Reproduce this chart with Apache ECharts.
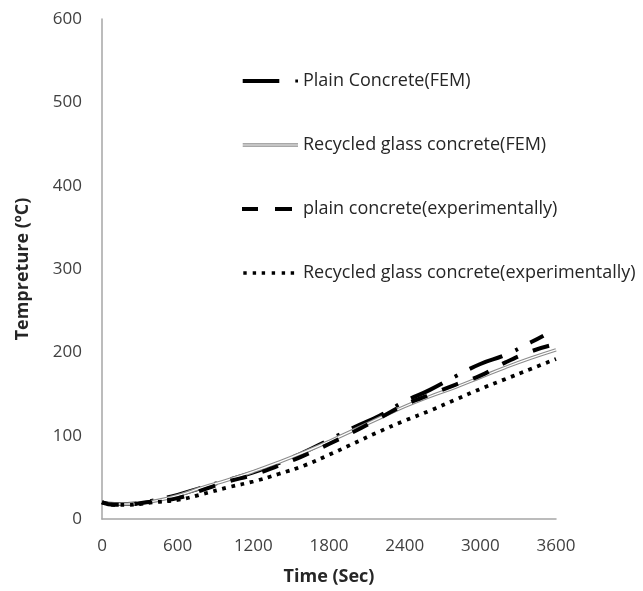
<!DOCTYPE html>
<html>
<head>
<meta charset="utf-8">
<script src="https://cdn.jsdelivr.net/npm/echarts@6/dist/echarts.min.js"></script>
<style>html,body{margin:0;padding:0;background:#fff;}#c{width:643px;height:591px;}</style>
</head>
<body>
<div id="c"></div>
<script>
// ---- data (Time in seconds, Temperature in ºC) ----
const timeTicks = [0, 600, 1200, 1800, 2400, 3000, 3600];
const tempTicks = [0, 100, 200, 300, 400, 500, 600];

const timesFull = [0, 100, 200, 300, 400, 600, 800, 1000, 1200, 1400, 1600, 1800, 2000, 2200, 2400, 2600, 2800, 3000, 3200, 3400, 3600];
const timesPlainFEM = [0, 100, 200, 300, 400, 600, 800, 1000, 1200, 1400, 1600, 1800, 2000, 2200, 2400, 2600, 2800, 3000, 3200, 3400, 3500];
const timesPlainExp = [0, 100, 200, 300, 400, 600, 800, 1000, 1200, 1400, 1600, 1800, 2000, 2200, 2400, 2600, 2800, 3000, 3200, 3400, 3550];

const plainFEM   = [20, 18, 18, 19, 22, 29, 38, 47, 56, 67, 80, 95, 110, 124, 141, 155, 171, 186, 197, 212, 220];
const recycledFEM = [20, 18, 18, 19, 21, 28, 38, 47, 57, 68, 80, 93, 107, 121, 135, 147, 158, 170, 182, 193, 203];
const plainExp   = [20, 17, 17, 19, 21, 25, 35, 45, 53, 64, 76, 90, 105, 121, 137, 149, 161, 172, 188, 201, 208];
const recycledExp = [20, 17, 17, 18, 20, 23, 30, 38, 45, 54, 64, 77, 91, 105, 118, 130, 143, 156, 168, 180, 192];

const names = [
  'Plain Concrete(FEM)',
  'Recycled glass concrete(FEM)',
  'plain concrete(experimentally)',
  'Recycled glass concrete(experimentally)'
];

function pairs(xs, ys) { return xs.map((x, i) => [x, ys[i]]); }

// legend icon shapes (56 x 10 box; tiny corner marks fix the bounding box)
const box = 'M0,0H0.01V0.01H0Z M55.99,9.99H56V10H55.99Z ';
const iconPlainFEM = 'path://' + box + 'M0.7,3H37.3V7H0.7Z M53.3,3.6H56V6.4H53.3Z';
const iconRecFEM = 'path://' + box + 'M0.7,3.3H56V4.4H0.7Z M0.7,5.6H56V6.7H0.7Z';
const iconPlainExp = 'path://' + box + 'M0,3H16V7H0Z M33,3H50V7H33Z';
let dots = '';
[1.3, 10.7, 19.7, 29.7, 39.7, 48.7].forEach(c => { dots += 'M' + c + ',3.3H' + (c + 3.4) + 'V6.7H' + c + 'Z '; });
const iconRecExp = 'path://' + box + dots;

const chart = echarts.init(document.getElementById('c'));
const FONT = 'Open Sans';
chart.setOption({
  animation: false,
  backgroundColor: '#fff',
  grid: { left: 102, right: 87, top: 19, bottom: 69 },
  legend: {
    orient: 'vertical',
    left: 237,
    top: 65,
    itemWidth: 56,
    itemHeight: 10,
    itemGap: 42,
    itemStyle: { borderWidth: 0 },
    textStyle: { fontFamily: FONT, fontSize: 18, color: '#262626', lineHeight: 22 },
    data: [
      { name: names[0], icon: iconPlainFEM, itemStyle: { color: '#000' } },
      { name: names[1], icon: iconRecFEM, itemStyle: { color: '#8c8c8c' } },
      { name: names[2], icon: iconPlainExp, itemStyle: { color: '#000' } },
      { name: names[3], icon: iconRecExp, itemStyle: { color: '#000' } }
    ]
  },
  xAxis: {
    type: 'value', min: 0, max: 3600, interval: 600,
    name: 'Time (Sec)', nameLocation: 'middle', nameGap: 49,
    nameTextStyle: { fontFamily: FONT, fontSize: 18, fontWeight: 'bold', color: '#262626' },
    axisLine: { show: true, lineStyle: { color: '#a6a6a6', width: 1.5 } },
    axisTick: { show: false },
    splitLine: { show: false },
    axisLabel: { fontFamily: FONT, fontSize: 17, color: '#404040', margin: 19,
      formatter: v => timeTicks.includes(v) ? String(v) : '' }
  },
  yAxis: {
    type: 'value', min: 0, max: 600, interval: 100,
    name: 'Tempreture (ºC)', nameLocation: 'middle', nameGap: 70,
    nameTextStyle: { fontFamily: FONT, fontSize: 18, fontWeight: 'bold', color: '#262626' },
    axisLine: { show: true, lineStyle: { color: '#a6a6a6', width: 1.5 } },
    axisTick: { show: false },
    splitLine: { show: false },
    axisLabel: { fontFamily: FONT, fontSize: 17, color: '#404040', margin: 20,
      formatter: v => tempTicks.includes(v) ? String(v) : '' }
  },
  series: [
    { name: names[0], type: 'line', smooth: true, showSymbol: false, symbol: 'none', z: 3,
      data: pairs(timesPlainFEM, plainFEM), itemStyle: { color: '#000' },
      lineStyle: { color: '#000', width: 4, type: [35, 14, 3, 14] } },
    { name: names[1], type: 'line', smooth: true, showSymbol: false, symbol: 'none', z: 4,
      data: pairs(timesFull, recycledFEM), itemStyle: { color: '#8c8c8c' },
      lineStyle: { color: '#8c8c8c', width: 3.4 } },
    { name: 'rfem-inner', type: 'line', smooth: true, showSymbol: false, symbol: 'none', z: 5,
      data: pairs(timesFull, recycledFEM), silent: true,
      lineStyle: { color: '#fff', width: 1.2 } },
    { name: names[2], type: 'line', smooth: true, showSymbol: false, symbol: 'none', z: 6,
      data: pairs(timesPlainExp, plainExp), itemStyle: { color: '#000' },
      lineStyle: { color: '#000', width: 4, type: [17, 16] } },
    { name: names[3], type: 'line', smooth: true, showSymbol: false, symbol: 'none', z: 7,
      data: pairs(timesFull, recycledExp), itemStyle: { color: '#000' },
      lineStyle: { color: '#000', width: 3.8, type: [3.8, 5.6] } }
  ]
});
</script>
</body>
</html>
